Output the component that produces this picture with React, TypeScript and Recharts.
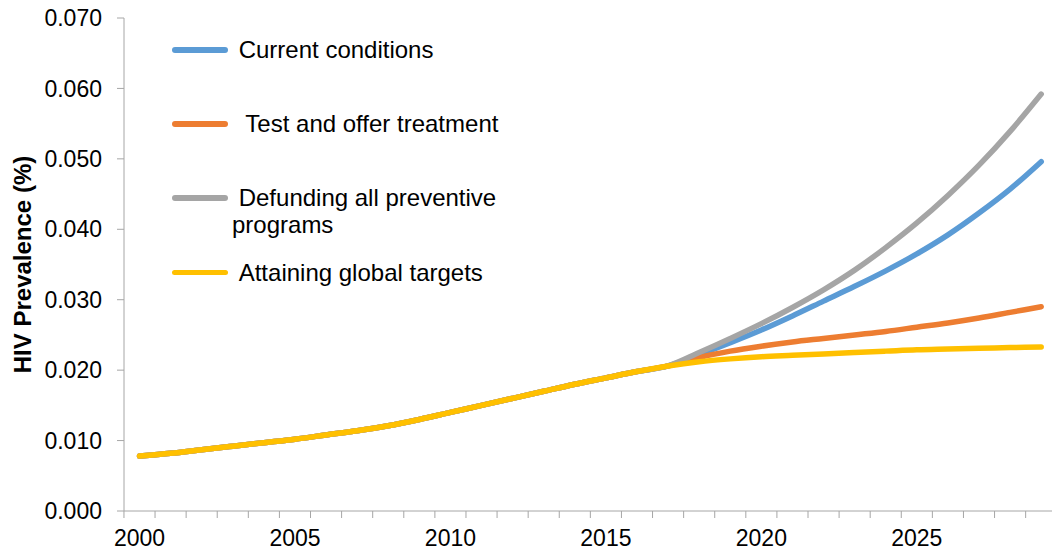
import { LineChart, Line, XAxis, YAxis } from 'recharts';

// years on the category axis
const years = [
  2000, 2001, 2002, 2003, 2004, 2005, 2006, 2007, 2008, 2009,
  2010, 2011, 2012, 2013, 2014, 2015, 2016, 2017, 2018, 2019,
  2020, 2021, 2022, 2023, 2024, 2025, 2026, 2027, 2028, 2029,
];

// the shared history up to 2017
const history = [
  0.0078, 0.0082, 0.0087, 0.0092, 0.0097, 0.0102, 0.0108, 0.0114, 0.0121, 0.0130,
  0.0140, 0.0150, 0.0160, 0.0170, 0.0180, 0.0189, 0.0198, 0.0206,
];

// 2018 - 2029 per scenario
const currentConditions = [0.0222, 0.0239, 0.0257, 0.0277, 0.0298, 0.0319, 0.0341, 0.0365, 0.0392, 0.0423, 0.0457, 0.0496];
const testAndTreat = [0.0218, 0.0227, 0.0234, 0.0240, 0.0245, 0.0250, 0.0255, 0.0261, 0.0267, 0.0274, 0.0282, 0.0290];
const defunding = [0.0225, 0.0245, 0.0266, 0.0289, 0.0314, 0.0342, 0.0374, 0.0409, 0.0448, 0.0491, 0.0539, 0.0592];
const globalTargets = [0.0212, 0.0216, 0.0219, 0.0221, 0.0223, 0.0225, 0.0227, 0.0229, 0.0230, 0.0231, 0.0232, 0.0233];

const yTicks = [0, 0.01, 0.02, 0.03, 0.04, 0.05, 0.06, 0.07];

const series = [
  { key: 'current', name: 'Current conditions', color: '#5B9BD5', tail: currentConditions },
  { key: 'test', name: ' Test and offer treatment', color: '#ED7D31', tail: testAndTreat },
  { key: 'defund', name: 'Defunding all preventive programs', color: '#A5A5A5', tail: defunding },
  { key: 'targets', name: 'Attaining global targets', color: '#FFC000', tail: globalTargets },
];

const data = years.map((year, i) => {
  const row: Record<string, number> = { year };
  series.forEach((s) => {
    row[s.key] = i < history.length ? history[i] : s.tail[i - history.length];
  });
  return row;
});

const W = 1052;
const H = 558;
const Y_AXIS_W = 124;
const X_AXIS_H = 47;
const PAD_L = 15.5;
const PAD_R = 10.8;
const step = (W - Y_AXIS_W - PAD_L - PAD_R) / (years.length - 1);
const axisColor = '#a6a6a6';
const font = "'Liberation Sans', Arial, sans-serif";

const YearTick = (props: any) => {
  const { x, y, payload } = props;
  const left = x - step / 2;
  return (
    <g>
      <line x1={left} x2={left} y1={y} y2={y + 7} stroke={axisColor} strokeWidth={1} />
      {payload.value % 5 === 0 && (
        <text x={x} y={y + 19} dy="0.71em" textAnchor="middle" fontSize={23} fill="#000" fontFamily={font}>
          {payload.value}
        </text>
      )}
    </g>
  );
};

const YLabel = (props: any) => {
  const { viewBox } = props;
  const cx = viewBox.x + 22;
  const cy = viewBox.y + viewBox.height / 2;
  return (
    <text
      x={cx}
      y={cy}
      transform={`rotate(-90, ${cx}, ${cy})`}
      textAnchor="middle"
      dominantBaseline="central"
      fontSize={24}
      fontWeight="bold"
      fontFamily={font}
      fill="#000"
    >
      HIV Prevalence (%)
    </text>
  );
};

export default function App() {
  return (
    <div style={{ position: 'absolute', left: 0, top: 0, width: W, height: H, background: '#fff', fontFamily: font }}>
      <LineChart width={W} height={H} data={data} margin={{ top: 18, right: 0, bottom: 0, left: 0 }}>
        <XAxis
          dataKey="year"
          interval={0}
          height={X_AXIS_H}
          padding={{ left: PAD_L, right: PAD_R }}
          axisLine={{ stroke: axisColor }}
          tickLine={false}
          tickSize={0}
          tickMargin={0}
          tick={<YearTick />}
        />
        <YAxis
          width={Y_AXIS_W}
          domain={[0, 0.07]}
          ticks={yTicks}
          tickFormatter={(v: number) => v.toFixed(3)}
          axisLine={{ stroke: axisColor }}
          tickLine={{ stroke: axisColor }}
          tickSize={7}
          tickMargin={15}
          tick={{ fontSize: 23, fill: '#000', fontFamily: font }}
          label={<YLabel />}
        />
        {series.map((s) => (
          <Line
            key={s.key}
            dataKey={s.key}
            name={s.name}
            type="monotone"
            stroke={s.color}
            strokeWidth={5.5}
            strokeLinecap="round"
            dot={false}
            activeDot={false}
            isAnimationActive={false}
          />
        ))}
      </LineChart>
      <div style={{ position: 'absolute', left: 172, top: 36 }}>
        {series.map((s) => (
          <div key={s.key} style={{ display: 'flex', alignItems: 'flex-start', height: 74.2 }}>
            <div
              style={{
                width: 56,
                height: 5.5,
                borderRadius: 3,
                background: s.color,
                marginTop: 11,
              }}
            />
            <div
              style={{
                marginLeft: 4,
                width: 290,
                fontSize: 24,
                lineHeight: '27px',
                textIndent: 6.7,
                whiteSpace: 'pre-wrap',
                color: '#000',
              }}
            >
              {s.name}
            </div>
          </div>
        ))}
      </div>
    </div>
  );
}
